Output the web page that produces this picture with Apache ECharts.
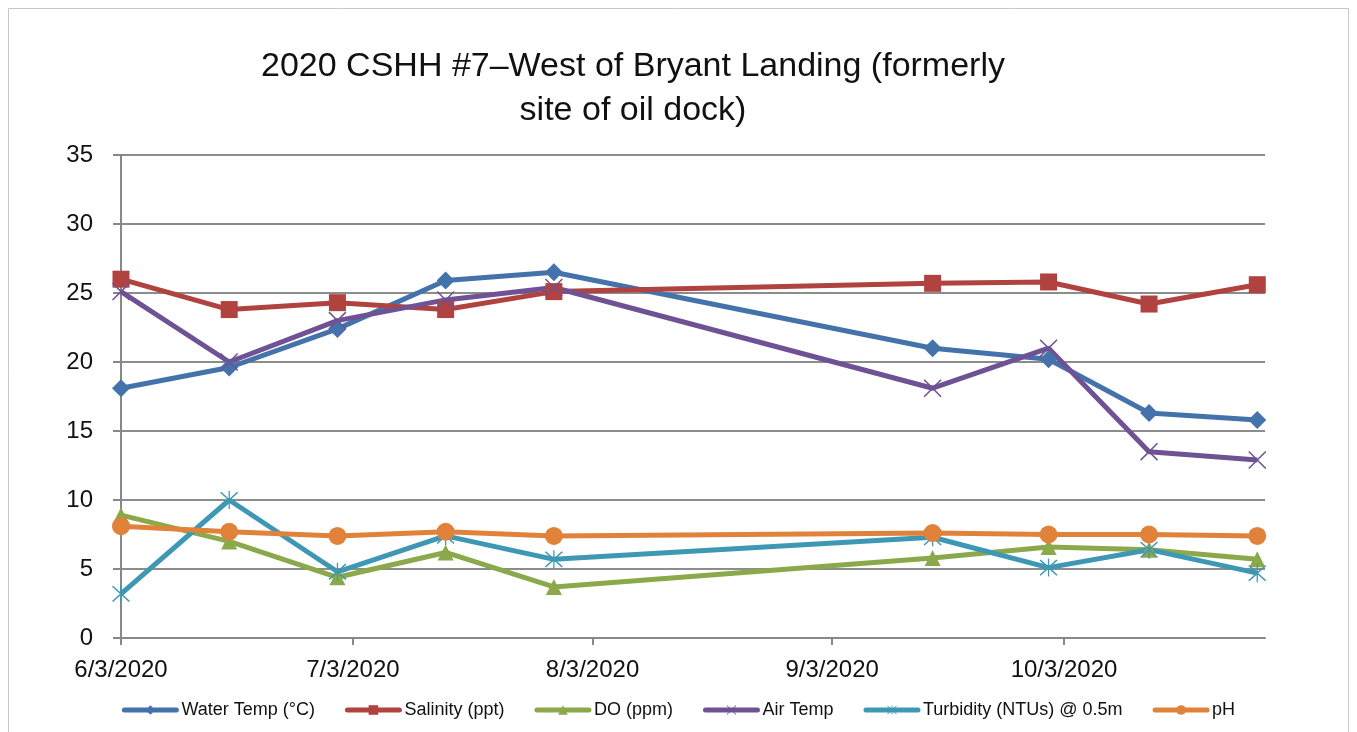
<!DOCTYPE html>
<html>
<head>
<meta charset="utf-8">
<script src="https://cdn.jsdelivr.net/npm/echarts@6/dist/echarts.min.js"></script>
<style>
  html, body { margin: 0; padding: 0; background: #fff; }
  #main { width: 1357px; height: 732px; }
</style>
</head>
<body>
<div id="main"></div>
<script>
// sampling dates (M/D/YYYY)
var dates = ['6/3/2020', '6/17/2020', '7/1/2020', '7/15/2020', '7/29/2020',
             '9/16/2020', '10/1/2020', '10/14/2020', '10/28/2020'];
var tickDates = ['6/3/2020', '7/3/2020', '8/3/2020', '9/3/2020', '10/3/2020'];

var waterTemp = [18.1, 19.6, 22.4, 25.9, 26.5, 21.0, 20.2, 16.3, 15.8];
var salinity  = [26.0, 23.8, 24.3, 23.8, 25.1, 25.7, 25.8, 24.2, 25.6];
var dissolvedO = [8.9, 7.0, 4.4, 6.2, 3.7, 5.8, 6.6, 6.4, 5.7];
var airTemp   = [25.1, 20.0, 23.0, 24.5, 25.4, 18.1, 21.0, 13.5, 12.9];
var turbidity = [3.2, 10.0, 4.8, 7.4, 5.7, 7.3, 5.1, 6.4, 4.7];
var ph        = [8.1, 7.7, 7.4, 7.7, 7.4, 7.6, 7.5, 7.5, 7.4];

var seriesNames = ['Water Temp (°C)', 'Salinity (ppt)', 'DO (ppm)', 'Air Temp', 'Turbidity (NTUs) @ 0.5m', 'pH'];

// day number (UTC days) for a M/D/YYYY string
function toDay(s) {
  var p = s.split('/');
  return Date.UTC(+p[2], +p[0] - 1, +p[1]) / 86400000;
}
function fmt(v) {
  var d = new Date(Math.round(v) * 86400000);
  return (d.getUTCMonth() + 1) + '/' + d.getUTCDate() + '/' + d.getUTCFullYear();
}
function pairs(vals) {
  return dates.map(function (d, i) { return [toDay(d), vals[i]]; });
}

var xMark = 'path://M0,1.2 L1.2,0 L20,18.8 L18.8,20 Z M18.8,0 L20,1.2 L1.2,20 L0,18.8 Z';
var starMark = 'path://M0,1.2 L1.2,0 L20,18.8 L18.8,20 Z M18.8,0 L20,1.2 L1.2,20 L0,18.8 Z M9.3,-1 L10.7,-1 L10.7,21 L9.3,21 Z';

var colors = ['#4472AA', '#B0423F', '#8BA84B', '#6F5294', '#3E98B4', '#E0823A'];
var symbols = ['diamond', 'rect', 'triangle', xMark, starMark, 'circle'];
var sizes = [18, 17, 16, 18, 18, 18];
var values = [waterTemp, salinity, dissolvedO, airTemp, turbidity, ph];

var chart = echarts.init(document.getElementById('main'));

var series = seriesNames.map(function (n, i) {
  return {
    name: n,
    type: 'line',
    data: pairs(values[i]),
    symbol: symbols[i],
    symbolSize: sizes[i],
    showAllSymbol: true,
    lineStyle: { width: 5, color: colors[i] },
    itemStyle: { color: colors[i] }
  };
});

var tickDays = tickDates.map(toDay);
var font = 'Liberation Sans, Arial, sans-serif';

chart.setOption({
  animation: false,
  backgroundColor: '#fff',
  color: colors,
  textStyle: { fontFamily: font },
  title: {
    text: '2020 CSHH #7\u2013West of Bryant Landing (formerly\nsite of oil dock)',
    left: 628,
    top: 40,
    textAlign: 'center',
    textStyle: { fontSize: 34, fontWeight: 'normal', color: '#111', lineHeight: 44,
                 fontFamily: font }
  },
  graphic: [{
    type: 'rect',
    shape: { x: 8.5, y: 8.5, width: 1340, height: 730 },
    style: { fill: 'none', stroke: '#c8c8c8', lineWidth: 1 },
    silent: true
  }],
  legend: {
    bottom: 8,
    left: 'center',
    itemWidth: 52,
    itemHeight: 12,
    itemGap: 30,
    lineStyle: { width: 5, cap: 'round' },
    textStyle: { fontSize: 18, color: '#111', fontFamily: font },
    data: seriesNames
  },
  grid: { left: 121, right: 92, top: 155, bottom: 94, containLabel: false },
  xAxis: {
    type: 'value',
    min: toDay('6/3/2020'),
    max: toDay('10/29/2020'),
    axisLine: { lineStyle: { color: '#888', width: 2 } },
    axisTick: { show: true, length: 7, lineStyle: { color: '#888', width: 2 },
                customValues: tickDays },
    axisLabel: { customValues: tickDays, formatter: fmt,
                 fontSize: 24, color: '#111', margin: 20, fontFamily: font },
    splitLine: { show: false }
  },
  yAxis: {
    type: 'value',
    min: 0,
    max: 35,
    interval: 5,
    axisLine: { show: true, lineStyle: { color: '#888', width: 2 } },
    axisTick: { show: true, length: 8, lineStyle: { color: '#888', width: 2 } },
    axisLabel: { fontSize: 24, color: '#111', margin: 28, fontFamily: font },
    splitLine: { lineStyle: { color: '#8c8c8c', width: 2 } }
  },
  series: series
});
</script>
</body>
</html>
